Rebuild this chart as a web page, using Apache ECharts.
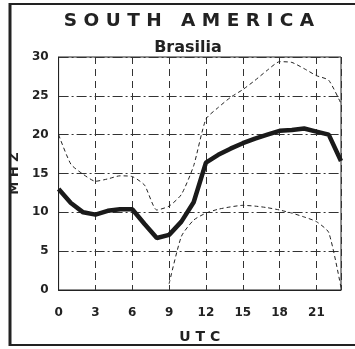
<!DOCTYPE html>
<html><head><meta charset="utf-8">
<script src="https://cdn.jsdelivr.net/npm/echarts@6/dist/echarts.min.js"></script>
<style>html,body{margin:0;padding:0;background:#fff}#c{width:355px;height:349px}</style>
</head><body><div id="c"></div>
<script>
var hours = [0,1,2,3,4,5,6,7,8,9,10,11,12,13,14,15,16,17,18,19,20,21,22,23];
var median = [13.0,11.2,10.0,9.7,10.2,10.4,10.4,8.5,6.7,7.1,8.8,11.3,16.4,17.4,18.2,18.9,19.5,20.0,20.5,20.6,20.8,20.4,20.0,16.6];
var upper = [20.0,16.2,14.9,14.0,14.3,14.7,14.6,13.5,10.3,10.8,12.3,16.0,22.0,23.5,24.8,25.8,27.0,28.3,29.4,29.3,28.5,27.6,27.0,24.0];
var lowerHours = [9,10,11,12,13,14,15,16,17,18,19,20,21,22,23];
var lower = [0.8,6.9,9.0,9.9,10.4,10.7,10.9,10.8,10.6,10.3,9.9,9.4,8.8,7.4,0.3];
var xTicks = [0,3,6,9,12,15,18,21];
var yTicks = [0,5,10,15,20,25,30];

function pairs(xs, ys){ return xs.map(function(x,i){return [x, ys[i]];}); }
var ink = '#222';
var chart = echarts.init(document.getElementById('c'));
chart.setOption({
  animation:false,
  backgroundColor:'#fff',
  grid:{left:58,right:14,top:57,bottom:59,show:true,borderColor:ink,borderWidth:1},
  xAxis:{type:'value',min:0,max:23,interval:3,
    name:'U T C',nameLocation:'middle',nameGap:40,
    nameTextStyle:{fontFamily:'DejaVu Sans',fontWeight:'bold',fontSize:14,color:ink},
    axisLine:{show:true,lineStyle:{color:ink,width:1}},
    axisTick:{show:false},
    axisLabel:{showMaxLabel:false,margin:17,fontFamily:'DejaVu Sans',fontWeight:'bold',fontSize:12,color:ink,
      formatter:function(v){return xTicks.indexOf(v)>=0?String(v):'';}},
    splitLine:{show:true,lineStyle:{color:'#333',width:1,type:[7,5]}}
  },
  yAxis:{type:'value',min:0,max:30,interval:5,
    name:'M H Z',nameLocation:'middle',nameGap:36,nameRotate:90,
    nameTextStyle:{fontFamily:'DejaVu Sans',fontWeight:'bold',fontSize:13,color:ink},
    axisLine:{show:true,lineStyle:{color:ink,width:1}},
    axisTick:{show:false},
    axisLabel:{margin:10,fontFamily:'DejaVu Sans',fontWeight:'bold',fontSize:12,color:ink,
      formatter:function(v){return yTicks.indexOf(v)>=0?String(v):'';}},
    splitLine:{show:true,lineStyle:{color:'#333',width:1,type:[10,3,2,3]}}
  },
  graphic:[
    {type:'line',shape:{x1:10,y1:3,x2:10,y2:346},style:{stroke:ink,lineWidth:3}},
    {type:'line',shape:{x1:9,y1:4,x2:355,y2:4},style:{stroke:ink,lineWidth:2}},
    {type:'line',shape:{x1:9,y1:345,x2:355,y2:345},style:{stroke:ink,lineWidth:2}},
    {type:'text',style:{x:189,y:21,text:'S O U T H   A M E R I C A',textAlign:'center',textVerticalAlign:'middle',
      fontFamily:'DejaVu Sans',fontWeight:'bold',fontSize:18.5,fill:ink}},
    {type:'text',style:{x:188,y:48,text:'Brasilia',textAlign:'center',textVerticalAlign:'middle',
      fontFamily:'DejaVu Sans',fontWeight:'bold',fontSize:16,fill:ink}}
  ],
  series:[
    {type:'line',data:pairs(hours,upper),symbol:'none',smooth:0.2,lineStyle:{color:ink,width:1,type:[4,3]}},
    {type:'line',data:pairs(lowerHours,lower),symbol:'none',smooth:0.2,lineStyle:{color:ink,width:1,type:[4,3]}},
    {type:'line',data:pairs(hours,median),symbol:'none',lineStyle:{color:'#1a1a1a',width:4.5}}
  ]
});
</script></body></html>
